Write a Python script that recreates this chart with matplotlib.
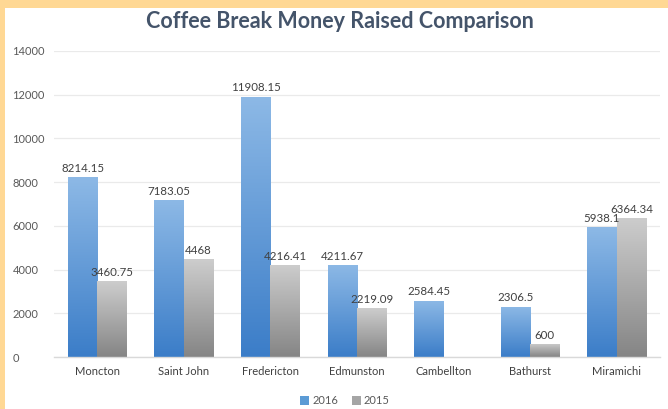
import numpy as np
import matplotlib
matplotlib.use("Agg")
import matplotlib.pyplot as plt
from matplotlib.patches import Rectangle, Patch
from matplotlib.colors import LinearSegmentedColormap

cities = ["Moncton", "Saint John", "Fredericton", "Edmunston", "Cambellton", "Bathurst", "Miramichi"]
v2016 = [8214.15, 7183.05, 11908.15, 4211.67, 2584.45, 2306.5, 5938.1]
v2015 = [3460.75, 4468, 4216.41, 2219.09, np.nan, 600, 6364.34]
lab2016 = ["8214.15", "7183.05", "11908.15", "4211.67", "2584.45", "2306.5", "5938.1"]
lab2015 = ["3460.75", "4468", "4216.41", "2219.09", "", "600", "6364.34"]
yticks = [0, 2000, 4000, 6000, 8000, 10000, 12000, 14000]

plt.rcParams['font.family'] = ['Lato', 'DejaVu Sans']

W, H = 668, 409
fig = plt.figure(figsize=(W / 100, H / 100), dpi=100)
fig.patch.set_facecolor("white")

# yellow frame (top and left)
frame_col = "#FFD894"
fig.patches.append(Rectangle((0, 1 - 8 / H), 1, 8 / H, transform=fig.transFigure,
                             facecolor=frame_col, edgecolor="none", zorder=0))
fig.patches.append(Rectangle((0, 0), 5 / W, 1, transform=fig.transFigure,
                             facecolor=frame_col, edgecolor="none", zorder=0))

ax = fig.add_axes([54 / W, 52 / H, (660 - 54) / W, (357 - 51) / H])

x = np.arange(len(cities))
w = 0.34
off = 0.17
b1 = ax.bar(x - off, v2016, w, color="#5B9BD5", zorder=2, label="2016")
b2 = ax.bar(x + off, v2015, w, color="#A5A5A5", zorder=2, label="2015")

cmap_blue = LinearSegmentedColormap.from_list("b", ["#3B7DC8", "#8DB9E6"])
cmap_gray = LinearSegmentedColormap.from_list("g", ["#858585", "#CDCDCD"])
grad = np.linspace(0, 1, 256).reshape(-1, 1)
for bars, cm in ((b1, cmap_blue), (b2, cmap_gray)):
    for r in bars:
        hgt = r.get_height()
        if not np.isfinite(hgt) or hgt <= 0:
            continue
        x0 = r.get_x()
        im = ax.imshow(grad, cmap=cm, aspect="auto", origin="lower",
                       extent=(x0, x0 + r.get_width(), 0, hgt), zorder=2.1,
                       interpolation="bilinear")
        im.set_clip_path(r)
        r.set_facecolor("none")
ax.set_xlim(-0.5, 6.5)
ax.set_ylim(0, 14000)

lab_col = "#404040"
for i in range(len(cities)):
    ax.text(x[i] - off, v2016[i] + 150, lab2016[i], ha="center", va="bottom",
            fontsize=8.3, color=lab_col, zorder=5)
    if lab2015[i]:
        ax.text(x[i] + off, v2015[i] + 150, lab2015[i], ha="center", va="bottom",
                fontsize=8.3, color=lab_col, zorder=5)

ax.set_yticks(yticks)
ax.set_yticklabels([str(t) for t in yticks])
ax.set_xticks(x)
ax.set_xticklabels(cities)
ax.tick_params(axis="y", length=0, pad=30, labelsize=8, labelcolor="#595959")
ax.tick_params(axis="x", length=0, pad=6.5, labelsize=8, labelcolor="#404040")
for lbl in ax.get_yticklabels():
    lbl.set_horizontalalignment("left")

ax.grid(axis="y", color="#EAEAEA", linewidth=0.9, zorder=0)
ax.set_axisbelow(True)
for s in ("top", "right", "left"):
    ax.spines[s].set_visible(False)
ax.spines["bottom"].set_color("#D9D9D9")
ax.spines["bottom"].set_linewidth(1.0)

fig.text(340 / W, 1 - 22 / H, "Coffee Break Money Raised Comparison", ha="center", va="center",
         fontsize=15.5, fontweight="bold", color="#44546A")

handles = [Patch(facecolor="#5B9BD5", label="2016"), Patch(facecolor="#A5A5A5", label="2015")]
fig.legend(handles=handles, loc="center", bbox_to_anchor=(345 / W, 1 - 401 / H), ncol=2,
           frameon=False, fontsize=8, handlelength=0.8, handleheight=0.8,
           handletextpad=0.3, columnspacing=1.2, labelcolor="#595959")

fig.savefig("out.png", dpi=100, facecolor="white")
